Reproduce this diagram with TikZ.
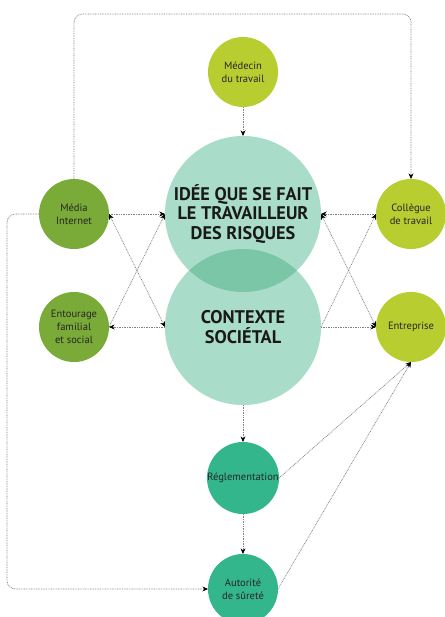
\documentclass[tikz,border=0pt]{standalone}
\usepackage{fontspec}
\setmainfont{PT Sans}
\usetikzlibrary{arrows.meta}

\definecolor{mediagreen}{RGB}{122,170,56}
\definecolor{limegreen}{RGB}{183,205,48}
\definecolor{mintgreen}{RGB}{170,221,201}
\definecolor{mintdark}{RGB}{124,198,168}
\definecolor{rulegreen}{RGB}{52,182,140}

\tikzset{
    actor/.style={circle, minimum size=1.75cm, inner sep=0pt, outer sep=0pt, align=center,
        text=black!85, font=\fontsize{7.5}{9.2}\selectfont},
    bigcircle/.style={circle, minimum size=3.9cm, inner sep=0pt, outer sep=0pt, align=center,
        fill=mintgreen, text=black!90, font=\fontsize{13}{14.2}\selectfont\bfseries},
    link/.style={gray, line width=0.5pt, dash pattern=on 0.6pt off 0.6pt},
    tolink/.style={link, -{Stealth[black, length=4pt, width=3.5pt]}},
    bothlink/.style={link, {Stealth[black, length=4pt, width=3.5pt]}-{Stealth[black, length=4pt, width=3.5pt]}}
}

\begin{document}
\begin{tikzpicture}[x=0.025cm, y=-0.025cm]

    \clip (0,0) rectangle (445,617);
    \fill[white] (0,0) rectangle (445,617);

    %% Centre: the two big circles
    \node[bigcircle] (idee) at (243,214) {IDÉE QUE SE FAIT\\LE TRAVAILLEUR\\DES RISQUES};
    \node[bigcircle] (contexte) at (243,327) {CONTEXTE\\SOCIÉTAL};
    % Overlap
    \begin{scope}
        \clip (idee.center) circle (1.95cm);
        \fill[mintdark] (contexte.center) circle (1.95cm);
    \end{scope}

    %% Actors round the centre
    \node[actor, fill=limegreen] (medecin) at (243,72) {Médecin\\du travail};
    \node[actor, fill=mediagreen] (media) at (74,214) {Média\\Internet};
    \node[actor, fill=mediagreen] (entourage) at (74,327) {Entourage\\familial\\et social};
    \node[actor, fill=limegreen] (collegue) at (411,214) {Collègue\\de travail};
    \node[actor, fill=limegreen] (entreprise) at (411,327) {Entreprise};
    \node[actor, fill=rulegreen] (reglementation) at (243,478) {Réglementation};
    \node[actor, fill=rulegreen] (autorite) at (243,589) {Autorité\\de sûreté};

    %% Loops
    \coordinate (toploop) at (243,14);
    \coordinate (leftloop) at (7,400);
    \draw[tolink, rounded corners=6] (media.north) |- (toploop) -| (collegue.north);
    \draw[tolink, rounded corners=6] (media.west) -| (leftloop) |- (autorite.west);

    %% Links to the centre
    \draw[tolink] (medecin) -- (idee);
    \draw[tolink] (media) -- (idee);
    \draw[bothlink] (media.east) -- (contexte.west);
    \draw[tolink] (entourage.east) -- (idee.west);
    \draw[tolink] (contexte) -- (entourage);
    \draw[tolink] (collegue) -- (idee);
    \draw[bothlink] (idee.east) -- (entreprise.west);
    \draw[tolink] (contexte.east) -- (collegue.west);
    \draw[tolink] (contexte) -- (entreprise);

    %% Bottom column
    \draw[tolink] (contexte) -- (reglementation);
    \draw[tolink] (reglementation) -- (autorite);
    \draw[tolink] (reglementation.east) -- (entreprise.south);
    \draw[tolink] (autorite.east) -- (entreprise.south);

\end{tikzpicture}
\end{document}
